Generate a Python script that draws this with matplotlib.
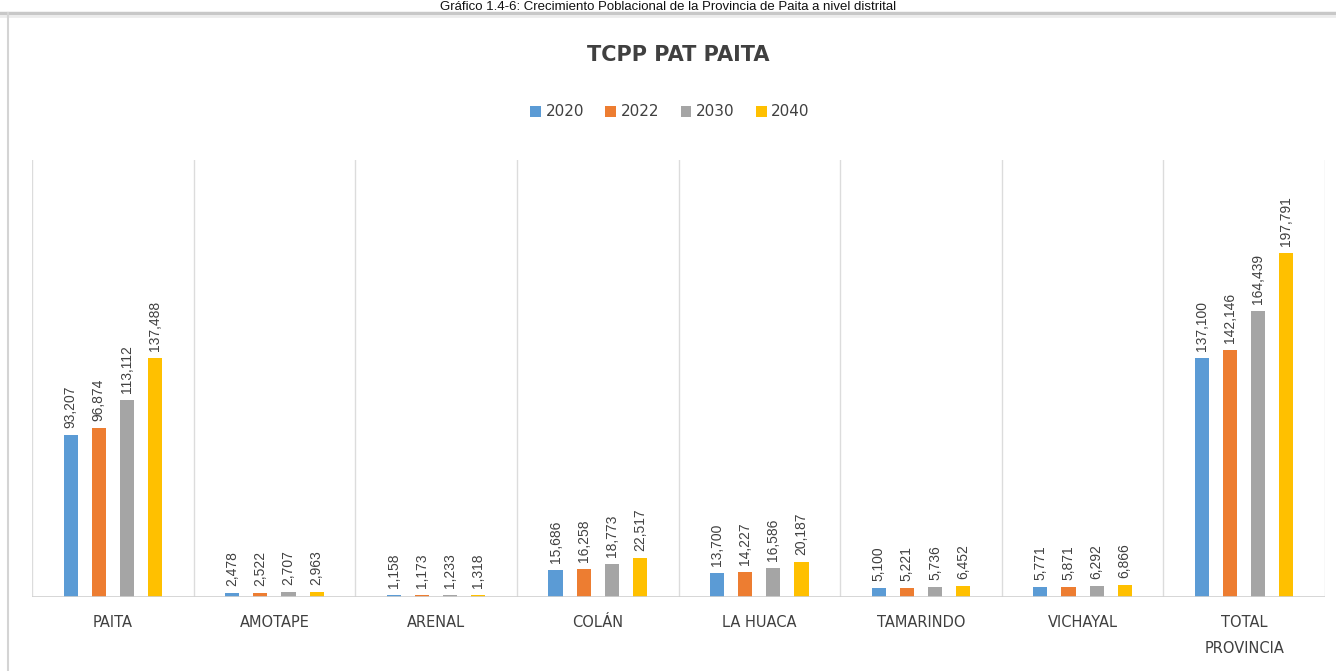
import matplotlib.pyplot as plt
import numpy as np
from matplotlib.lines import Line2D

categories = ["PAITA", "AMOTAPE", "ARENAL", "COLÁN", "LA HUACA",
              "TAMARINDO", "VICHAYAL", "TOTAL\nPROVINCIA"]
years = ["2020", "2022", "2030", "2040"]
v2020 = [93207, 2478, 1158, 15686, 13700, 5100, 5771, 137100]
v2022 = [96874, 2522, 1173, 16258, 14227, 5221, 5871, 142146]
v2030 = [113112, 2707, 1233, 18773, 16586, 5736, 6292, 164439]
v2040 = [137488, 2963, 1318, 22517, 20187, 6452, 6866, 197791]
series = [v2020, v2022, v2030, v2040]
colors = ["#5B9BD5", "#ED7D31", "#A5A5A5", "#FFC000"]

W, H = 1336, 671
fig = plt.figure(figsize=(W / 100, H / 100), dpi=100)
fig.patch.set_facecolor("white")

# caption at top + frame of the embedded chart
fig.text(668 / W, 1 - 0.5 / H, "Gráfico 1.4-6: Crecimiento Poblacional de la Provincia de Paita a nivel distrital",
         ha="center", va="top", fontsize=9.5, family="Liberation Sans", color="#111111")
fig.add_artist(Line2D([0, 1], [1 - 13 / H, 1 - 13 / H], color="#c8c8c8", lw=2.5))
fig.add_artist(Line2D([0, 1], [1 - 16 / H, 1 - 16 / H], color="#ececec", lw=2))
fig.add_artist(Line2D([8 / W, 8 / W], [0, 1 - 13 / H], color="#d4d4d4", lw=1.5))

ax = fig.add_axes([32 / W, 1 - 597 / H, (1325 - 32) / W, (597 - 160) / H])
x = np.arange(len(categories))
step = 0.174
bw = 0.087
for i, (vals, c) in enumerate(zip(series, colors)):
    pos = x + (i - 1.5) * step
    ax.bar(pos, vals, width=bw, color=c, label=years[i], zorder=3)
    for p, v in zip(pos, vals):
        ax.annotate(f"{v:,}", (p, v), xytext=(0, 5), textcoords="offset points",
                    rotation=90, ha="center", va="bottom", fontsize=10,
                    color="#404040", family="Liberation Sans")

ax.set_xlim(-0.5, len(categories) - 0.5)
ax.set_ylim(0, 251000)
for b in np.arange(-0.5, len(categories), 1.0):
    ax.axvline(b, color="#dcdcdc", lw=1, zorder=1)
ax.axhline(0, color="#d0d0d0", lw=1.2, zorder=4)
for s in ax.spines.values():
    s.set_visible(False)
ax.set_yticks([])
ax.set_xticks(x)
ax.set_xticklabels(categories, fontsize=10.5, color="#404040", linespacing=1.9)
ax.tick_params(axis="x", length=0, pad=13)

fig.text(678 / W, 1 - 55 / H, "TCPP PAT PAITA", ha="center", va="center",
         fontsize=15, fontweight="bold", color="#404040", family="Liberation Sans Narrow")
fig.legend(loc="center", bbox_to_anchor=(670 / W, 1 - 112 / H), ncol=4, frameon=False,
           fontsize=11, handlelength=0.7, handleheight=0.7, handletextpad=0.3,
           columnspacing=1.4, labelcolor="#404040")

fig.savefig("out.png", dpi=100)
